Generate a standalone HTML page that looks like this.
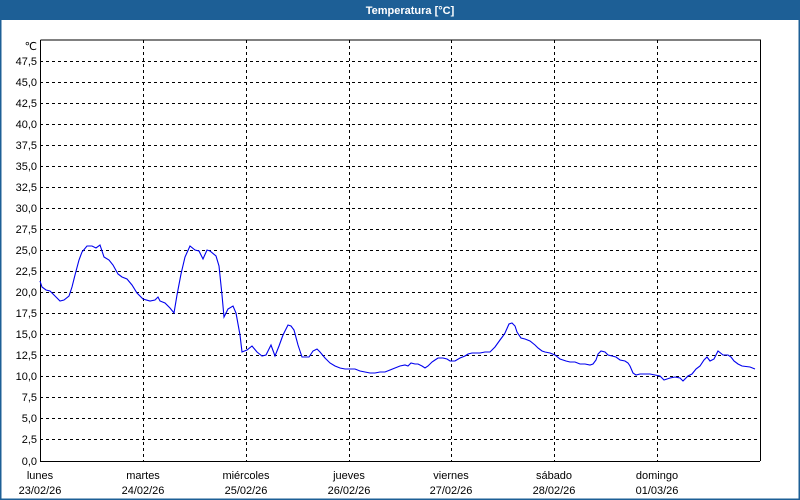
<!DOCTYPE html>
<html><head><meta charset="utf-8"><style>
html,body{margin:0;padding:0;background:#fff}
svg{display:block}
text{font-family:"Liberation Sans","DejaVu Sans",sans-serif;font-size:11px;fill:#000}
</style></head><body>
<svg width="800" height="500" viewBox="0 0 800 500" xmlns="http://www.w3.org/2000/svg">
<rect x="0" y="0" width="800" height="500" fill="#fff"/>
<rect x="0.5" y="0.5" width="799" height="499" fill="none" stroke="#1d5f96" stroke-width="2"/>
<rect x="0" y="0" width="800" height="20" fill="#1d5f96"/>
<text x="410" y="14" text-anchor="middle" style="fill:#fff;font-weight:bold">Temperatura [°C]</text>
<g stroke="#000" stroke-width="1" stroke-dasharray="3,3" fill="none">
<path d="M40 439.5H760M40 418.5H760M40 397.5H760M40 376.5H760M40 355.5H760M40 334.5H760M40 313.5H760M40 292.5H760M40 271.5H760M40 250.5H760M40 229.5H760M40 208.5H760M40 187.5H760M40 166.5H760M40 145.5H760M40 124.5H760M40 103.5H760M40 82.5H760M40 61.5H760"/>
<path d="M143.5 40V461M246.5 40V461M349.5 40V461M451.5 40V461M554.5 40V461M657.5 40V461"/>
</g>
<path d="M40.5 40V461.5H760" stroke="#000" fill="none"/>
<path d="M40.5 40H760.5V461" stroke="#000" fill="none" stroke-width="1"/>
<g text-anchor="end">
<text x="37" y="50">℃</text>
<text x="37" y="65">47,5</text><text x="37" y="86">45,0</text><text x="37" y="107">42,5</text><text x="37" y="128">40,0</text>
<text x="37" y="149">37,5</text><text x="37" y="170">35,0</text><text x="37" y="191">32,5</text><text x="37" y="212">30,0</text>
<text x="37" y="233">27,5</text><text x="37" y="254">25,0</text><text x="37" y="275">22,5</text><text x="37" y="296">20,0</text>
<text x="37" y="317">17,5</text><text x="37" y="338">15,0</text><text x="37" y="359">12,5</text><text x="37" y="380">10,0</text>
<text x="37" y="401">7,5</text><text x="37" y="422">5,0</text><text x="37" y="443">2,5</text><text x="37" y="465">0,0</text>
</g>
<g text-anchor="middle">
<text x="40" y="479">lunes</text><text x="40" y="494">23/02/26</text>
<text x="143" y="479">martes</text><text x="143" y="494">24/02/26</text>
<text x="246" y="479">miércoles</text><text x="246" y="494">25/02/26</text>
<text x="349" y="479">jueves</text><text x="349" y="494">26/02/26</text>
<text x="451" y="479">viernes</text><text x="451" y="494">27/02/26</text>
<text x="554" y="479">sábado</text><text x="554" y="494">28/02/26</text>
<text x="657" y="479">domingo</text><text x="657" y="494">01/03/26</text>
</g>
<polyline fill="none" stroke="#0000ee" stroke-width="1.1" points="40,281 42,287 46,290 50,291 55,296 60,301 64,300 69,296 72,287 75,275 79,260 82,252 87,246 92,246 96,248 100,245 104,257 109,260 113,265 118,274 122,277 127,279 132,285 137,293 143,299 150,301 155,300 158,297 160,301 165,303 170,308 174,313 177,295 181,274 185,257 190,246 195,250 199,251 203,259 207,250 210,251 216,256 219,266 222,295 224,317 228,309 233,306 236,313 240,335 242,352 247,350 252,346 257,352 262,356 266,355 271,345 275,356 279,346 283,335 288,325 291,326 294,330 298,345 302,357 305,357 309,357 313,351 317,349 320,352 325,358 330,363 335,366 340,368 345,369 350,369 355,369 360,371 365,372 370,373 375,373 380,372 385,372 390,370 395,368 400,366 405,365 408,366 411,363 415,364 418,364 422,366 425,368 428,366 432,362 435,360 438,358 443,358 447,359 450,361 455,361 460,358 465,356 468,354 472,353 480,353 485,352 490,352 495,347 500,340 503,336 505,333 509,324 512,323 515,326 517,332 521,338 525,339 530,341 535,345 538,348 542,351 545,352 550,353 555,355 560,359 566,361 570,362 575,362 580,364 585,364 590,365 593,364 596,360 598,354 601,351 605,352 608,355 612,356 616,357 620,360 625,361 628,363 630,366 633,373 636,375 640,374 645,374 650,374 655,375 660,376 664,380 670,378 675,377 680,378 683,381 688,376 692,374 696,369 700,366 704,360 707,357 710,361 714,359 718,351 723,355 728,355 731,357 734,361 738,364 742,366 750,367 755,369"/>
</svg>
</body></html>
